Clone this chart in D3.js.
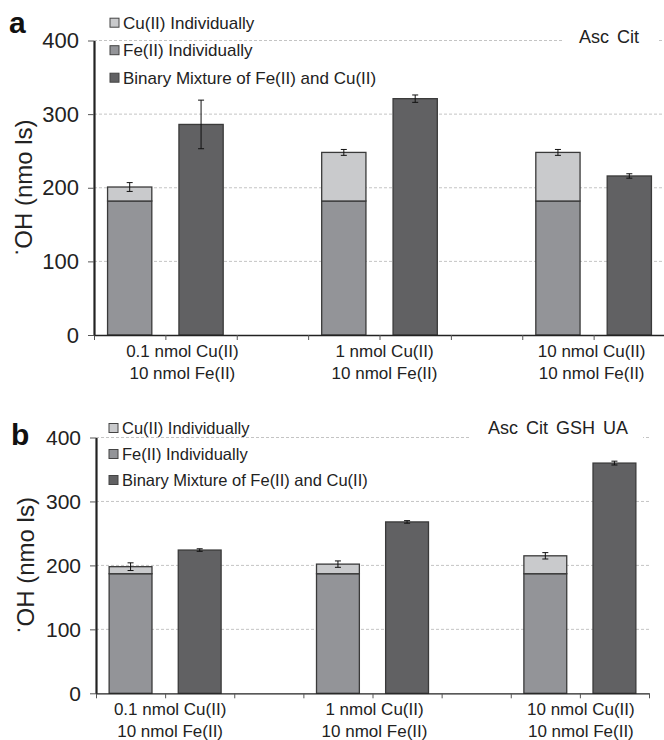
<!DOCTYPE html>
<html>
<head>
<meta charset="utf-8">
<script src="https://cdn.jsdelivr.net/npm/d3@7"></script>
<style>
  body { margin: 0; background: #fff; }
  svg { display: block; font-family: "Liberation Sans", Arial, sans-serif; }
</style>
</head>
<body>
<script>
// categories (two text lines each)
const groupLines = [
  ["0.1 nmol Cu(II)", "10 nmol Fe(II)"],
  ["1 nmol Cu(II)", "10 nmol Fe(II)"],
  ["10 nmol Cu(II)", "10 nmol Fe(II)"]
];
const legendLabels = ["Cu(II) Individually", "Fe(II) Individually", "Binary Mixture of Fe(II) and Cu(II)"];
const yTicks = [0, 100, 200, 300, 400];

// panel a: Asc Cit
const feA = [182, 182, 182];
const cuA = [19, 66, 66];          // Cu(II) part stacked on Fe(II)
const cuErrA = [6, 4, 4];
const binA = [286, 321, 216];
const binErrA = [33, 5, 3];

// panel b: Asc Cit GSH UA
const feB = [187, 187, 187];
const cuB = [11, 15, 28];
const cuErrB = [6, 5, 5];
const binB = [224, 268, 360];
const binErrB = [2, 2, 3];

const colors = { cu: "#c9cacc", fe: "#939498", bin: "#616163" };

const svg = d3.select("body").append("svg")
    .attr("width", 664)
    .attr("height", 740);

function drawPanel(p) {
  const g = svg.append("g");

  const y = d3.scaleLinear().domain([0, 400]).range([p.y0, p.yTop]);
  const slot = d3.scaleBand().domain(d3.range(8)).range([p.x0, p.x1])
    .paddingInner(0.38).paddingOuter(0.19);
  const bnd = d3.scaleLinear().domain([0, 8]).range([p.x0, p.x1]);

  // gridlines
  g.append("g").selectAll("line")
    .data(yTicks.slice(1))
    .join("line")
      .attr("x1", p.x0).attr("x2", p.x1)
      .attr("y1", d => y(d)).attr("y2", d => y(d))
      .attr("stroke", "#c4c4c4")
      .attr("stroke-width", 1)
      .attr("stroke-dasharray", "3,2");

  // white box behind the condition name
  g.append("rect")
    .attr("x", p.boxX[0]).attr("width", p.boxX[1] - p.boxX[0])
    .attr("y", y(400) - 14).attr("height", 18)
    .attr("fill", "#fff");
  g.append("text")
    .attr("x", p.boxText[0]).attr("y", p.boxText[1])
    .attr("font-size", 18)
    .attr("word-spacing", 3)
    .attr("fill", "#222")
    .text(p.name);

  const items = p.fe.map((d, i) => ({
    i: i, fe: d, cu: p.cu[i], cuErr: p.cuErr[i], bin: p.bin[i], binErr: p.binErr[i]
  }));

  const bars = g.append("g").attr("stroke", "#3a3a3a").attr("stroke-width", 1.3);
  // Fe(II) part
  bars.selectAll(".fe").data(items).join("rect")
      .attr("class", "fe")
      .attr("x", d => slot(d.i * 3)).attr("width", slot.bandwidth())
      .attr("y", d => y(d.fe)).attr("height", d => y(0) - y(d.fe))
      .attr("fill", colors.fe);
  // Cu(II) part
  bars.selectAll(".cu").data(items).join("rect")
      .attr("class", "cu")
      .attr("x", d => slot(d.i * 3)).attr("width", slot.bandwidth())
      .attr("y", d => y(d.fe + d.cu)).attr("height", d => y(d.fe) - y(d.fe + d.cu))
      .attr("fill", colors.cu);
  // binary mixture
  bars.selectAll(".bin").data(items).join("rect")
      .attr("class", "bin")
      .attr("x", d => slot(d.i * 3 + 1)).attr("width", slot.bandwidth())
      .attr("y", d => y(d.bin)).attr("height", d => y(0) - y(d.bin))
      .attr("fill", colors.bin);

  // error bars
  const errs = [];
  items.forEach(d => {
    errs.push({ cx: slot(d.i * 3) + slot.bandwidth() / 2, v: d.fe + d.cu, e: d.cuErr });
    errs.push({ cx: slot(d.i * 3 + 1) + slot.bandwidth() / 2, v: d.bin, e: d.binErr });
  });
  const eg = g.append("g").attr("stroke", "#111").attr("stroke-width", 1);
  eg.selectAll(".ev").data(errs).join("line")
      .attr("x1", d => d.cx).attr("x2", d => d.cx)
      .attr("y1", d => y(d.v - d.e)).attr("y2", d => y(d.v + d.e));
  [-1, 1].forEach(s => {
    eg.selectAll(".cap" + s).data(errs).join("line")
        .attr("x1", d => d.cx - 3).attr("x2", d => d.cx + 3)
        .attr("y1", d => y(d.v + s * d.e)).attr("y2", d => y(d.v + s * d.e));
  });

  // x axis
  const xa = g.append("g")
      .attr("transform", `translate(0,${p.y0})`)
      .call(d3.axisBottom(bnd).tickValues(d3.range(9)).tickFormat("").tickSize(5).tickSizeOuter(0));
  xa.select(".domain").attr("stroke", "#222").attr("stroke-width", 1.3);
  xa.selectAll(".tick line").attr("stroke", "#555");

  // group labels
  const lab = g.append("g")
      .attr("font-size", 17)
      .attr("fill", "#222")
      .attr("text-anchor", "middle");
  groupLines.forEach((lines, i) => {
    lines.forEach((t, k) => {
      lab.append("text")
        .attr("x", bnd(i * 3 + 1) + p.labShift[i])
        .attr("y", p.y0 + 22 + k * 22)
        .text(t);
    });
  });

  // y axis
  const ya = g.append("g")
      .attr("transform", `translate(${p.x0},0)`)
      .call(d3.axisLeft(y).tickValues(yTicks).tickSize(6).tickPadding(9).tickSizeOuter(0));
  ya.select(".domain").attr("stroke", "#222").attr("stroke-width", 2.2);
  ya.selectAll(".tick line").attr("stroke", "#555");
  ya.selectAll(".tick text")
      .style("font-size", p.tickFont + "px")
      .style("font-family", "'Liberation Sans', Arial, sans-serif")
      .attr("fill", "#222");

  // y title
  const yt = g.append("text")
      .attr("transform", `translate(${p.titleX},${(p.y0 + p.yTop) / 2}) rotate(-90)`)
      .attr("text-anchor", "middle")
      .attr("font-size", 24)
      .attr("fill", "#222");
  yt.append("tspan").attr("dy", -9).attr("font-size", 22).text("·");
  yt.append("tspan").attr("dy", 9).text("OH (nmo ls)");

  // panel letter
  g.append("text")
      .attr("x", p.letter[0]).attr("y", p.letter[1])
      .attr("font-size", 30)
      .attr("font-weight", "bold")
      .attr("fill", "#111")
      .text(p.letterText);

  // legend
  const lg = g.append("g").attr("transform", `translate(${p.legend[0]},${p.legend[1]})`);
  const keys = [colors.cu, colors.fe, colors.bin];
  keys.forEach((c, i) => {
    lg.append("rect")
      .attr("x", 0).attr("y", i * p.legendStep - 4.5)
      .attr("width", 9).attr("height", 9)
      .attr("fill", c)
      .attr("stroke", "#444").attr("stroke-width", 1);
    lg.append("text")
      .attr("x", 13).attr("y", i * p.legendStep + 6)
      .attr("font-size", p.legendFont)
      .attr("fill", "#222")
      .text(legendLabels[i]);
  });
}

drawPanel({
  name: "Asc Cit", letterText: "a",
  fe: feA, cu: cuA, cuErr: cuErrA, bin: binA, binErr: binErrA,
  x0: 94, x1: 665, y0: 335, yTop: 40.5,
  labShift: [17, 5, -2],
  boxX: [562, 658], boxText: [579, 43],
  titleX: 32, letter: [9, 33], tickFont: 22,
  legend: [110, 22.7], legendStep: 27.5, legendFont: 17
});

drawPanel({
  name: "Asc Cit GSH UA", letterText: "b",
  fe: feB, cu: cuB, cuErr: cuErrB, bin: binB, binErr: binErrB,
  x0: 96, x1: 649, y0: 693.3, yTop: 437.5,
  labShift: [5, 2, 1],
  boxX: [470, 643], boxText: [488, 434],
  titleX: 34, letter: [11, 445], tickFont: 21,
  legend: [109, 428], legendStep: 26, legendFont: 16.5
});
</script>
</body>
</html>
